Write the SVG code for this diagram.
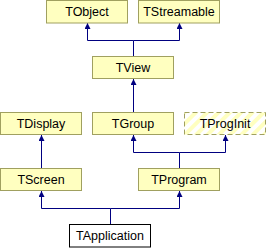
<svg xmlns="http://www.w3.org/2000/svg" width="266" height="248" viewBox="0 0 266 248">
<style>
.box{fill:#ffffc0;stroke:#a0a060;stroke-width:1}
.wbox{fill:#ffffff;stroke:#000000;stroke-width:1}
.dbox{fill:url(#stripes);stroke:#a0a060;stroke-width:1;stroke-dasharray:5,3}
.lbl{font-family:"Liberation Sans",Arial,sans-serif;font-size:12.5px;fill:#000000;text-anchor:middle}
.edge{fill:none;stroke:#000080;stroke-width:1;marker-end:url(#arr)}
.seg{fill:none;stroke:#000080;stroke-width:1}
</style>
<defs>
<marker id="arr" markerWidth="6" markerHeight="6" refX="6" refY="3" orient="auto" markerUnits="userSpaceOnUse">
<path d="M0,0 L6,3 L0,6 Z" fill="#000080"/>
</marker>
<pattern id="stripes" patternUnits="userSpaceOnUse" width="8" height="8" patternTransform="rotate(45)">
<rect width="8" height="8" fill="#ffffff"/>
<rect width="4" height="8" fill="#ffffc0"/>
</pattern>
</defs>
<g id="connectors">
<path class="seg" d="M133.5,56 V40.5 H87.5 M133.5,40.5 H179.5"/>
<path class="edge" d="M87.5,40.5 V23"/>
<path class="edge" d="M179.5,40.5 V23"/>
<path class="edge" d="M133.5,112 V79"/>
<path class="edge" d="M41.5,168 V135"/>
<path class="seg" d="M179.5,168 V152.5 H133.5 M179.5,152.5 H225.5"/>
<path class="edge" d="M133.5,152.5 V135"/>
<path class="edge" d="M225.5,152.5 V135"/>
<path class="seg" d="M110.5,224 V208.5 H41.5 M110.5,208.5 H179.5"/>
<path class="edge" d="M41.5,208.5 V191"/>
<path class="edge" d="M179.5,208.5 V191"/>
</g>
<g id="TObject"><rect class="box" x="46.5" y="0.5" width="81" height="22.5"/><text class="lbl" x="87" y="16">TObject</text></g>
<g id="TStreamable"><rect class="box" x="138.5" y="0.5" width="81" height="22.5"/><text class="lbl" x="179" y="16">TStreamable</text></g>
<g id="TView"><rect class="box" x="92.5" y="56.5" width="81" height="22"/><text class="lbl" x="133" y="72">TView</text></g>
<g id="TDisplay"><rect class="box" x="0.5" y="112.5" width="81" height="22"/><text class="lbl" x="41" y="128">TDisplay</text></g>
<g id="TGroup"><rect class="box" x="92.5" y="112.5" width="81" height="22"/><text class="lbl" x="133" y="128">TGroup</text></g>
<g id="TProgInit"><rect class="dbox" x="184.5" y="112.5" width="81" height="22"/><text class="lbl" x="225" y="128">TProgInit</text></g>
<g id="TScreen"><rect class="box" x="0.5" y="168.5" width="81" height="22"/><text class="lbl" x="41" y="184">TScreen</text></g>
<g id="TProgram"><rect class="box" x="138.5" y="168.5" width="81" height="22"/><text class="lbl" x="179" y="184">TProgram</text></g>
<g id="TApplication"><rect class="wbox" x="69.5" y="224.5" width="81" height="22.5"/><text class="lbl" x="110" y="240">TApplication</text></g>
</svg>
